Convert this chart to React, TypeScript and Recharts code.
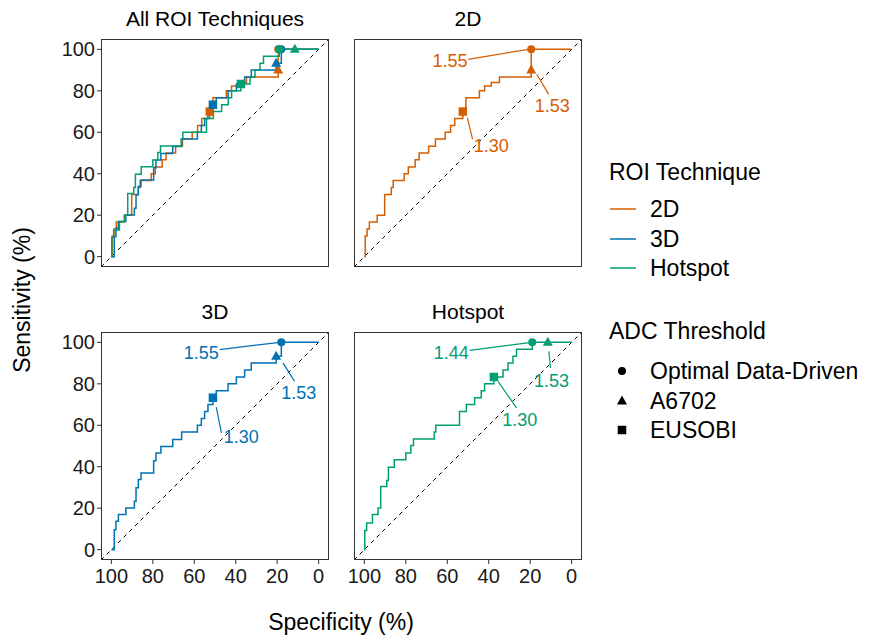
import React from "react";
import { ComposedChart, Line, ReferenceLine, Scatter, XAxis, YAxis } from "recharts";

const FONT = "'Liberation Sans', Arial, Helvetica, sans-serif";

const techniques = ["2D", "3D", "Hotspot"];
const techColors: Record<string, string> = { "2D": "#D55E00", "3D": "#0072B2", Hotspot: "#009E73" };
const thresholds = ["Optimal Data-Driven", "A6702", "EUSOBI"];
const axisTicks = [0, 20, 40, 60, 80, 100];

// ROC steps: specificity where sensitivity jumps, sensitivity after the jump
const spec2D = [100, 99.6, 98.7, 97.6, 93.8, 90.2, 87.0, 86.1, 80.8, 78.8, 75.5, 73.6, 69.0, 65.7, 61.0, 58.4, 56.4, 52.5, 51.0, 44.5, 42.0, 38.8, 34.8, 19.5, 19.5, 0];
const sens2D = [0, 10.0, 13.3, 16.7, 20.0, 30.0, 33.3, 36.7, 40.0, 43.3, 46.7, 50.0, 53.3, 56.7, 60.0, 63.3, 66.7, 70.0, 76.7, 80.0, 82.3, 84.0, 86.7, 90.0, 100, 100];

const spec3D = [100, 98.6, 97.8, 96.6, 93.0, 88.9, 88.1, 87.0, 85.7, 79.6, 78.5, 76.1, 70.4, 66.1, 58.5, 56.6, 55.0, 53.4, 51.0, 49.4, 43.7, 39.7, 35.7, 32.5, 20.5, 18.0, 0];
const sens3D = [0, 9.6, 13.7, 16.9, 20.1, 23.3, 29.8, 33.8, 37.0, 42.9, 46.6, 49.8, 53.1, 56.7, 60.0, 63.3, 66.7, 70.0, 73.3, 76.7, 80.0, 83.3, 86.7, 90.0, 93.3, 100, 100];

const specHot = [100, 99.8, 98.9, 96.1, 93.4, 92.1, 89.2, 88.4, 85.6, 80.0, 77.6, 76.3, 66.3, 65.5, 54.1, 50.8, 46.8, 43.6, 42.0, 37.5, 33.1, 30.7, 28.3, 26.6, 19.0, 0];
const sensHot = [0, 9.2, 12.9, 16.9, 20.1, 30.5, 33.3, 39.7, 43.4, 46.6, 50.3, 53.4, 56.8, 60.0, 66.7, 70.0, 73.3, 76.7, 80.0, 83.3, 86.7, 90.0, 93.3, 96.7, 100, 100];

// threshold points (Optimal, A6702, EUSOBI)
const markSpec2D = [19.5, 19.5, 52.5];
const markSens2D = [100, 90, 70];
const cut2D = ["1.55", "1.53", "1.30"];
const markSpec3D = [18.0, 20.5, 51.0];
const markSens3D = [100, 93.3, 73.3];
const cut3D = ["1.55", "1.53", "1.30"];
const markSpecHot = [19.0, 11.5, 37.5];
const markSensHot = [100, 100, 83.3];
const cutHot = ["1.44", "1.53", "1.30"];

// label placement (repelled text) and leader segments
const labSpec2D = [58.7, 9.4, 38.8];
const labSens2D = [94.4, 72.7, 53.4];
const seg2D = [[49.9, 95.2, 20.9, 100], [16.8, 88, 11.1, 78.3], [50.3, 67.1, 47.8, 56.7]];
const labSpec3D = [56.6, 9.6, 37.3];
const labSens3D = [94.9, 75.6, 54.3];
const seg3D = [[47.8, 96.5, 18.8, 100], [17.2, 90.1, 11.6, 81.2], [49.4, 68.8, 46.9, 56.3]];
const labSpecHot = [58.1, 9.7, 25.0];
const labSensHot = [94.9, 81.2, 62.7];
const segHot = [[49.2, 96.1, 19.4, 100], [11.0, 95.7, 10.2, 87.6], [35.5, 81.2, 26.6, 68.4]];

const diagSpec = [105, -5];
const diagSens = [-5, 105];

const pts = (spec: number[], sens: number[]) => spec.map((s, i) => ({ spec: s, sens: sens[i] }));

type Tech = {
  name: string;
  curve: { spec: number; sens: number }[];
  marks: { spec: number; sens: number; kind: string }[];
  labels: { spec: number; sens: number; text: string }[];
  segs: number[][];
};

const makeTech = (
  name: string, spec: number[], sens: number[], mSpec: number[], mSens: number[],
  cuts: string[], lSpec: number[], lSens: number[], segs: number[][],
): Tech => ({
  name,
  curve: pts(spec, sens),
  marks: mSpec.map((s, i) => ({ spec: s, sens: mSens[i], kind: thresholds[i] })),
  labels: lSpec.map((s, i) => ({ spec: s, sens: lSens[i], text: cuts[i] })),
  segs,
});

const tech2D = makeTech(techniques[0], spec2D, sens2D, markSpec2D, markSens2D, cut2D, labSpec2D, labSens2D, seg2D);
const tech3D = makeTech(techniques[1], spec3D, sens3D, markSpec3D, markSens3D, cut3D, labSpec3D, labSens3D, seg3D);
const techHot = makeTech(techniques[2], specHot, sensHot, markSpecHot, markSensHot, cutHot, labSpecHot, labSensHot, segHot);

const BOX = 228;
const Y_W = 48;
const X_H = 36;
const PAD = 20;

function MarkerGlyph({ kind, cx, cy, color }: { kind: string; cx: number; cy: number; color: string }) {
  if (kind === thresholds[0]) return <circle cx={cx} cy={cy} r={4} fill={color} />;
  if (kind === thresholds[1])
    return <polygon points={`${cx},${cy - 5.5} ${cx - 5},${cy + 3.5} ${cx + 5},${cy + 3.5}`} fill={color} />;
  return <rect x={cx - 4.25} y={cy - 4.25} width={8.5} height={8.5} fill={color} />;
}

const markerShape = (color: string) => (props: any) => {
  const { cx, cy, payload } = props;
  if (cx == null || cy == null) return <g />;
  return <MarkerGlyph kind={payload.kind} cx={cx} cy={cy} color={color} />;
};

const labelShape = (color: string) => (props: any) => {
  const { cx, cy, payload } = props;
  if (cx == null || cy == null) return <g />;
  return (
    <text x={cx} y={cy} textAnchor="middle" dominantBaseline="central" fontSize={18} fontFamily={FONT} fill={color}>
      {payload.text}
    </text>
  );
};

type PanelProps = { title: string; x0: number; y0: number; showX: boolean; showY: boolean; techs: Tech[]; annotate: boolean };

function Panel({ title, x0, y0, showX, showY, techs, annotate }: PanelProps) {
  const left = showY ? 0 : PAD;
  const w = BOX + (showY ? Y_W : 0) + left + PAD;
  const h = BOX + (showX ? X_H : 0);
  const tick = { fill: "#1a1a1a", fontSize: 20, fontFamily: FONT };
  return (
    <>
      <div
        style={{
          position: "absolute", left: x0 - 40, top: y0 - 34, width: BOX + 80, textAlign: "center",
          fontSize: 21, fontFamily: FONT, color: "#000", lineHeight: "28px",
        }}
      >
        {title}
      </div>
      <div style={{ position: "absolute", left: x0 - (showY ? Y_W : 0) - left, top: y0 }}>
        <ComposedChart width={w} height={h} margin={{ top: 0, right: PAD, bottom: 0, left }}>
          <XAxis
            type="number" dataKey="spec" domain={[-5, 105]} reversed allowDataOverflow ticks={axisTicks}
            interval={0} hide={!showX} height={X_H} axisLine={false} tickSize={4} tickMargin={5}
            tickLine={{ stroke: "#333" }} tick={tick}
          />
          <YAxis
            type="number" dataKey="sens" domain={[-5, 105]} allowDataOverflow ticks={axisTicks}
            interval={0} hide={!showY} width={Y_W} axisLine={false} tickSize={4} tickMargin={2}
            tickLine={{ stroke: "#333" }} tick={tick}
          />
          <Line
            data={pts(diagSpec, diagSens)} dataKey="sens" type="linear" stroke="#000" strokeWidth={1}
            strokeDasharray="4 4" dot={false} activeDot={false} isAnimationActive={false}
          />
          {techs.map((t) => (
            <Line
              key={`c-${t.name}`} data={t.curve} dataKey="sens" type="stepAfter" stroke={techColors[t.name]}
              strokeWidth={1.5} dot={false} activeDot={false} isAnimationActive={false}
            />
          ))}
          {annotate &&
            techs.map((t) =>
              t.segs.map((s, i) => (
                <ReferenceLine
                  key={`s-${t.name}-${i}`} segment={[{ x: s[0], y: s[1] }, { x: s[2], y: s[3] }]}
                  stroke={techColors[t.name]} strokeWidth={1.2}
                />
              )),
            )}
          {techs.map((t) => (
            <Scatter
              key={`m-${t.name}`} data={t.marks} dataKey="sens" shape={markerShape(techColors[t.name])}
              isAnimationActive={false}
            />
          ))}
          {annotate &&
            techs.map((t) => (
              <Scatter
                key={`l-${t.name}`} data={t.labels} dataKey="sens" shape={labelShape(techColors[t.name])}
                isAnimationActive={false}
              />
            ))}
        </ComposedChart>
      </div>
      <div
        style={{
          position: "absolute", left: x0, top: y0, width: BOX, height: BOX, boxSizing: "border-box",
          border: "1px solid #333", pointerEvents: "none",
        }}
      />
    </>
  );
}

function Legend() {
  const txt: React.CSSProperties = { position: "absolute", fontSize: 23, fontFamily: FONT, color: "#000", lineHeight: "28px", whiteSpace: "nowrap" };
  return (
    <>
      <div style={{ ...txt, left: 609, top: 158 }}>ROI Technique</div>
      {techniques.map((t, i) => (
        <React.Fragment key={t}>
          <svg style={{ position: "absolute", left: 610, top: 199 + i * 29.5 }} width={26} height={20}>
            <line x1={0} x2={26} y1={10} y2={10} stroke={techColors[t]} strokeWidth={1.5} />
          </svg>
          <div style={{ ...txt, left: 650, top: 195 + i * 29.5 }}>{t}</div>
        </React.Fragment>
      ))}
      <div style={{ ...txt, left: 609, top: 317 }}>ADC Threshold</div>
      {thresholds.map((k, i) => (
        <React.Fragment key={k}>
          <svg style={{ position: "absolute", left: 612, top: 361 + i * 29.5 }} width={20} height={20}>
            <MarkerGlyph kind={k} cx={10} cy={10} color="#000" />
          </svg>
          <div style={{ ...txt, left: 650, top: 357 + i * 29.5 }}>{k}</div>
        </React.Fragment>
      ))}
    </>
  );
}

export default function App() {
  return (
    <div style={{ position: "absolute", left: 0, top: 0, width: 875, height: 638, background: "#fff", overflow: "hidden" }}>
      <Panel title="All ROI Techniques" x0={101} y0={39} showX={false} showY techs={[tech2D, tech3D, techHot]} annotate={false} />
      <Panel title="2D" x0={354} y0={39} showX={false} showY={false} techs={[tech2D]} annotate />
      <Panel title="3D" x0={101} y0={332} showX showY techs={[tech3D]} annotate />
      <Panel title="Hotspot" x0={354} y0={332} showX showY={false} techs={[techHot]} annotate />
      <div
        style={{
          position: "absolute", left: 22, top: 300, transform: "translate(-50%, -50%) rotate(-90deg)",
          fontSize: 23, fontFamily: FONT, whiteSpace: "nowrap", color: "#000",
        }}
      >
        Sensitivity (%)
      </div>
      <div
        style={{
          position: "absolute", left: 341, top: 622, transform: "translate(-50%, -50%)",
          fontSize: 23, fontFamily: FONT, whiteSpace: "nowrap", color: "#000",
        }}
      >
        Specificity (%)
      </div>
      <Legend />
    </div>
  );
}
